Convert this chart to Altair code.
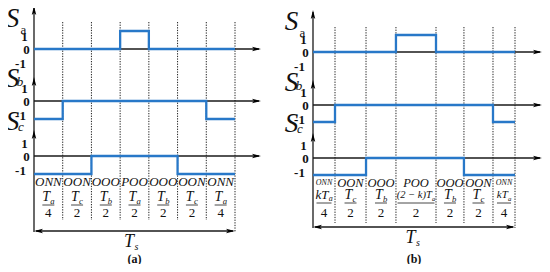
import altair as alt
import pandas as pd

# ---------------- data ----------------
states = ["ONN", "OON", "OOO", "POO", "OOO", "OON", "ONN"]
dur_a = [1, 1, 1, 1, 1, 1, 1]                        # drawn segment widths, panel (a)
dur_b = [1.0, 1.41, 1.36, 1.82, 1.27, 1.32, 1.0]     # drawn segment widths, panel (b)
level_sa = [0, 0, 0, 1, 0, 0, 0]
level_sb = [-1, 0, 0, 0, 0, 0, -1]
level_sc = [-1, -1, 0, 0, 0, -1, -1]
num_a = ["T", "T", "T", "T", "T", "T", "T"]
num_b = ["kT", "T", "T", "(2 − k)T", "T", "T", "kT"]
num_sub = ["a", "c", "b", "a", "b", "c", "a"]
den = ["4", "2", "2", "2", "2", "2", "4"]
signal_names = ["a", "b", "c"]
tick_labels = ["1", "0", "-1"]
captions = ["(a)", "(b)"]

# ---------------- layout ----------------
BLUE = "#2878c8"
FONT = "'Liberation Serif', 'DejaVu Serif', serif"
W, H = 534, 256
panels = [
    dict(cap=captions[0], dur=dur_a, num=num_a, ox=34, span=201, base=[49, 101, 156], amp=18,
         vtop=6, vbot=232, rowtip=[6, 77, 130], htip=261, dtop=22, dbot=220, tsy=231,
         sy=182, ny=197, ly=205, dy=212.5, tly=242, capy=258.5,
         ssize=[13] * 7, nsize=[14] * 7, nshift=[1.7] * 7, lw=[12] * 7, tsh=-0.5),
    dict(cap=captions[1], dur=dur_b, num=num_b, ox=313, span=202, base=[52, 105, 158], amp=17,
         vtop=10, vbot=228, rowtip=[10, 80, 133], htip=542, dtop=27, dbot=223, tsy=227,
         sy=183, ny=195, ly=203, dy=212.5, tly=238, capy=258.5,
         ssize=[8, 12.5, 12.5, 12.5, 12.5, 12.5, 8], nsize=[13, 14, 14, 10.5, 14, 14, 11],
         nshift=[4.5, 1.7, 1.7, 15.8, 1.7, 1.7, 3.8], lw=[15, 12, 12, 37, 12, 12, 14], tsh=1.5),
]
S_DX, S_DY = -21.5, [-30, -22, -34]
SUB_DX, SUB_DY = [-10.5, -14, -13], [-19, -19, -29]
TICK_DX = {"1": -9.5, "0": -7.5, "-1": -13.5}
TICK_DY = {"1": -12, "0": 1, "-1": 15}
AH = 4.5  # half length of arrowheads

wave, rules, dots, heads, fracs = [], [], [], [], []
texts = []


def add_text(x, y, t, size, style="rm", align="center"):
    texts.append(dict(x=x, y=y, t=t, size=size, style=style, align=align))


levels = [level_sa, level_sb, level_sc]
for p in panels:
    tot = sum(p["dur"])
    unit = p["span"] / tot
    cum = [0.0]
    for d in p["dur"]:
        cum.append(cum[-1] + d)
    xs = [p["ox"] + c * unit for c in cum]
    # waveforms
    for r, lv in enumerate(levels):
        pts = lv + [lv[-1]]
        for k, (xx, L) in enumerate(zip(xs, pts)):
            wave.append(dict(x=xx, y=p["base"][r] - L * p["amp"], sid=p["cap"] + signal_names[r], o=k))
        # horizontal axis
        rules.append(dict(x=p["ox"], x2=p["htip"] - 2, y=p["base"][r], y2=p["base"][r]))
        heads.append(dict(x=p["htip"] - AH, y=p["base"][r], ang=0))
        heads.append(dict(x=p["ox"], y=p["rowtip"][r] + AH, ang=270))
        # labels
        add_text(p["ox"] + S_DX, p["base"][r] + S_DY[r], "S", 27, "it")
        add_text(p["ox"] + SUB_DX[r], p["base"][r] + SUB_DY[r], signal_names[r], 13,
                 "rm" if r == 0 else "it")
        for tl in tick_labels:
            add_text(p["ox"] + TICK_DX[tl], p["base"][r] + TICK_DY[tl], tl, 13, "bd")
    # vertical axis
    rules.append(dict(x=p["ox"], x2=p["ox"], y=p["vtop"] + 2, y2=p["vbot"]))
    # dotted boundaries
    for k in range(1, 8):
        dots.append(dict(x=xs[k], x2=xs[k], y=p["dtop"], y2=p["vbot"] if k == 7 else p["dbot"]))
    # Ts double arrow
    rules.append(dict(x=xs[0] + 2, x2=xs[7] - 2, y=p["tsy"], y2=p["tsy"]))
    heads.append(dict(x=xs[0] + AH, y=p["tsy"], ang=180))
    heads.append(dict(x=xs[7] - AH, y=p["tsy"], ang=0))
    mid = (xs[0] + xs[7]) / 2
    add_text(mid + p["tsh"], p["tly"], "T", 18, "it", "right")
    add_text(mid + p["tsh"] + 0.5, p["tly"] + 4.5, "s", 10, "it", "left")
    add_text(mid, p["capy"], p["cap"], 12, "bd")
    # segment labels
    for k in range(7):
        xc = (xs[k] + xs[k + 1]) / 2
        add_text(xc, p["sy"], states[k], p["ssize"][k], "it")
        xr = xc + p["nshift"][k]
        add_text(xr, p["ny"], p["num"][k], p["nsize"][k], "it", "right")
        add_text(xr + 0.3, p["ny"] + 3.5, num_sub[k], p["nsize"][k] * 0.62, "it", "left")
        fracs.append(dict(x=xc - p["lw"][k] / 2, x2=xc + p["lw"][k] / 2, y=p["ly"], y2=p["ly"]))
        add_text(xc, p["dy"], den[k], 13, "rm")

xs_scale = alt.Scale(domain=[8, 8 + W], nice=False, zero=False)
ys_scale = alt.Scale(domain=[8, 8 + H], nice=False, zero=False, reverse=True)
X = lambda f: alt.X(f, type="quantitative", scale=xs_scale, axis=None)
Y = lambda f: alt.Y(f, type="quantitative", scale=ys_scale, axis=None)

dot_layer = alt.Chart(pd.DataFrame(dots)).mark_rule(
    color="#222", strokeWidth=1, strokeDash=[1.3, 1.3]
).encode(x=X("x"), x2="x2", y=Y("y"), y2="y2")

rule_layer = alt.Chart(pd.DataFrame(rules)).mark_rule(
    color="#1a1a1a", strokeWidth=1.3
).encode(x=X("x"), x2="x2", y=Y("y"), y2="y2")

frac_layer = alt.Chart(pd.DataFrame(fracs)).mark_rule(
    color="#333", strokeWidth=0.9
).encode(x=X("x"), x2="x2", y=Y("y"), y2="y2")

ARROW = "M 1 0 L -1 -0.5 L -0.55 0 L -1 0.5 Z"
head_layer = alt.Chart(pd.DataFrame(heads)).mark_point(
    shape=ARROW, filled=True, color="black", size=81, opacity=1, strokeWidth=0
).encode(x=X("x"), y=Y("y"), angle=alt.Angle("ang:Q", scale=None))

wave_layer = alt.Chart(pd.DataFrame(wave)).mark_line(
    color=BLUE, strokeWidth=2.3, interpolate="step-after"
).encode(x=X("x"), y=Y("y"), detail="sid:N", order="o:Q")

tdf = pd.DataFrame(texts)
text_layers = []
for (style, align), g in tdf.groupby(["style", "align"]):
    text_layers.append(
        alt.Chart(g.reset_index(drop=True)).mark_text(
            font=FONT, align=align, baseline="middle", color="#111",
            fontStyle="italic" if style == "it" else "normal",
            fontWeight="bold" if style == "bd" else "normal",
        ).encode(x=X("x"), y=Y("y"), text="t:N", size=alt.Size("size:Q", scale=None))
    )

chart = alt.layer(dot_layer, rule_layer, frac_layer, head_layer, wave_layer, *text_layers).properties(
    width=W, height=H, padding=0, autosize=alt.AutoSizeParams(type="none"),
    background="white",
).configure_view(stroke=None)

chart.save("out.html", embed_options={"renderer": "svg", "actions": False})
